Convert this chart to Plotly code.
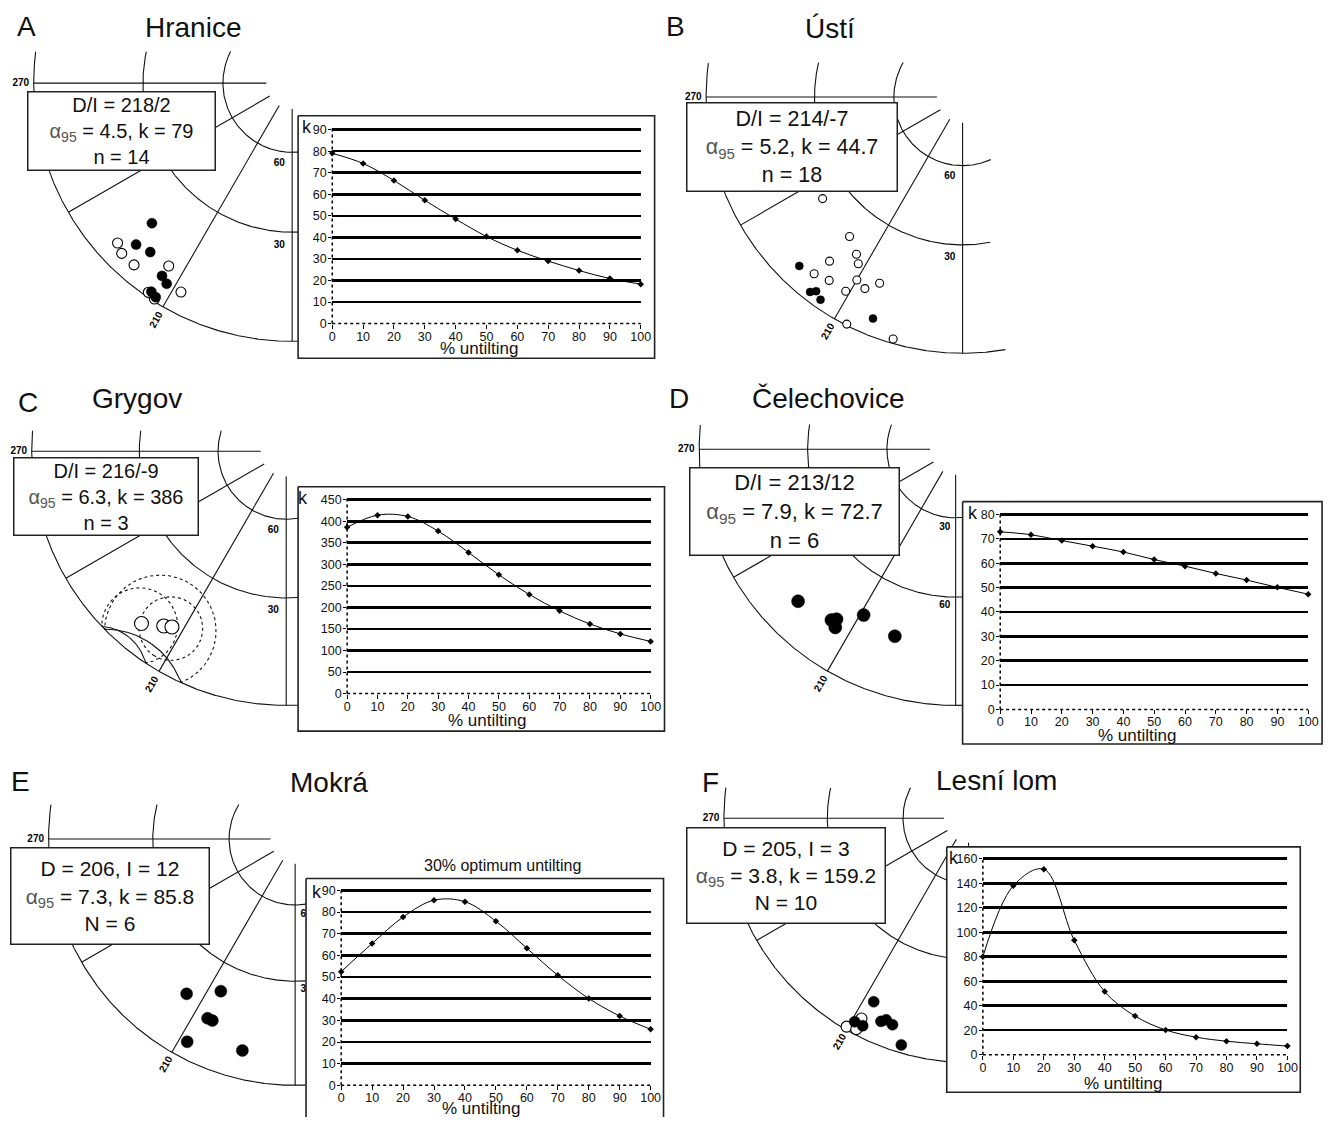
import numpy as np
import plotly.graph_objects as go

W, H = 1338, 1124

# ---------------- data ----------------
untilting = [0, 10, 20, 30, 40, 50, 60, 70, 80, 90, 100]
k_hranice = [79, 74.3, 66.4, 57.2, 48.5, 40.4, 34, 29, 24.6, 20.9, 18.3]
k_grygov = [386, 414, 411, 377, 327.5, 275.5, 230, 192, 161.5, 138.5, 121]
k_celechovice = [72.9, 71.7, 69.3, 67.0, 64.6, 61.5, 58.8, 55.8, 53.1, 50.1, 47.3]
k_mokra = [52.5, 65.5, 77.7, 85.5, 84.8, 75.8, 63.3, 50.8, 40.1, 32.0, 25.9]
k_lesni = [80, 138, 151.5, 93.5, 51.5, 31.5, 20.2, 14.3, 11.0, 8.9, 7.0]

# site-mean directions (declination, inclination); negative inclination = upper hemisphere (open symbol)
dec_hranice = [225, 224, 220, 214, 212, 214, 212.5, 227.5, 225, 221, 214, 208, 212.5, 214.5]
inc_hranice = [15, 8, 9, 6, 5, 1.5, 1, -5, -4, -4, -9, -5, -0.5, -1]

dec_usti = [234, 219, 214, 212, 219, 220, 216, 210, 211, 207, 204, 207, 196, 224, 218, 217, 215, 202]
inc_usti = [-22, -20, -17, -15, -11, -6, -7, -11, -7, -10, -13, -0.3, -1, 5, 2, 3, 2, 4]

dec_grygov = [220, 215, 213]
inc_grygov = [-7, -10, -11]
a95_grygov = [9.5, 14.5, 8.5]

dec_celechovice = [226, 216, 215, 214, 209, 198]
inc_celechovice = [9, 11, 12, 10, 17, 15]

dec_mokra = [215, 206, 206, 204.5, 208, 194]
inc_mokra = [15, 21, 12, 12, 4, 7]

dec_lesni = [207.3, 209.2, 207, 203.3, 202.2, 200.2, 196.5, 210.3, 208.1, 208]
inc_lesni = [9.6, 2.7, 2.75, 5.7, 6.6, 6.0, 1.9, -0.7, -4.2, -1.3]

panel_letters = ["A", "B", "C", "D", "E", "F"]
locality_names = ["Hranice", "Ústí", "Grygov", "Čelechovice", "Mokrá", "Lesní lom"]
stat_text = [
    ["D/I = 218/2", "4.5, k = 79", "n = 14"],
    ["D/I = 214/-7", "5.2, k = 44.7", "n = 18"],
    ["D/I = 216/-9", "6.3, k = 386", "n = 3"],
    ["D/I = 213/12", "7.9, k = 72.7", "n = 6"],
    ["D = 206, I = 12", "7.3, k = 85.8", "N = 6"],
    ["D = 205, I = 3", "3.8, k = 159.2", "N = 10"],
]
x_title = "% untilting"
y_title = "k"
optimum_note = "30% optimum untilting"

k_series = [k_hranice, None, k_grygov, k_celechovice, k_mokra, k_lesni]
y_max = [90, None, 450, 80, 90, 160]
y_step = [10, None, 50, 10, 10, 20]
dirs = [(dec_hranice, inc_hranice), (dec_usti, inc_usti), (dec_grygov, inc_grygov),
        (dec_celechovice, inc_celechovice), (dec_mokra, inc_mokra), (dec_lesni, inc_lesni)]

# ---------------- layout geometry (pixels) ----------------
geom = [
    dict(cx=292, cy=79, R=261, top=47, box=(26, 88, 214, 167), fs=20, letter=(24, 22), title=(192, 23),
         frame=(298, 112, 658, 357), plot=(332.5, 644, 322, 126), klab=(307, 123), xlab=(481, 347),
         ms=10, lab="left"),
    dict(cx=969, cy=93, R=259, top=58, box=(691, 99, 902, 188), fs=21.5, letter=(679, 22), title=(835, 24),
         frame=None, ms=8, lab="left"),
    dict(cx=286, cy=451, R=257, top=430, box=(12, 458, 197, 536), fs=20, letter=(25, 402), title=(135, 398),
         frame=(298, 487, 668, 734), plot=(347.5, 654, 696, 500), klab=(303, 498), xlab=(489, 723),
         ms=14, lab="left"),
    dict(cx=962, cy=449, R=259, top=424, box=(694, 468, 904, 556), fs=22, letter=(683, 398), title=(834, 398),
         frame=(969, 502, 1332, 747), plot=(1007, 1318, 712, 515), klab=(980, 513), xlab=(1145, 738),
         ms=13, lab="swap"),
    dict(cx=295, cy=843, R=249, top=808, box=(9, 852, 208, 949), fs=21, letter=(18, 785), title=(329, 786),
         frame=(306, 883, 667, 1130), plot=(341.5, 654, 1092, 895), klab=(317, 897), xlab=(483, 1115),
         ms=12, lab="right", note=(504, 870)),
    dict(cx=975, cy=822, R=247, top=791, box=(691, 832, 890, 928), fs=21, letter=(714, 786), title=(1003, 784),
         frame=(953, 851, 1310, 1099), plot=(989.5, 1297, 1061, 863), klab=(960, 862), xlab=(1131, 1090),
         ms=11, lab=None),
]
frames = [g["frame"] for g in geom if g["frame"]]

FONT = "Liberation Sans, Arial, Helvetica, sans-serif"
LINE = "#111111"


def proj(dec, inc, cx, cy, R):
    d = np.radians(np.asarray(dec, float))
    i = np.radians(np.abs(np.asarray(inc, float)))
    r = R * np.tan((np.pi / 2 - i) / 2)
    return cx + r * np.sin(d), cy - r * np.cos(d)


def mask_frames(x, y):
    x = np.array(x, float)
    y = np.array(y, float)
    for (x1, y1, x2, y2) in frames:
        m = (x >= x1) & (x <= x2) & (y >= y1) & (y <= y2)
        x[m] = np.nan
        y[m] = np.nan
    return x, y


def tolist(a):
    return [None if not np.isfinite(v) else float(v) for v in a]


def net_xy(g):
    cx, cy, R = g["cx"], g["cy"], g["R"]
    X, Y = [], []
    az = np.arange(120, 330.01, 0.2)
    for I, clip in ((60, 0.11), (30, 0.11), (0, 0.17)):
        x, y = proj(az, np.full_like(az, I), cx, cy, R)
        bad = (y < g["top"]) | (x > cx + clip * R)
        x[bad] = np.nan
        y[bad] = np.nan
        X += list(x) + [np.nan]
        Y += list(y) + [np.nan]
    s = np.linspace(0.1, 1.0, 400)
    for a in (180, 210, 240, 270):
        ar = np.radians(a)
        X += list(cx + s * R * np.sin(ar)) + [np.nan]
        Y += list(cy - s * R * np.cos(ar)) + [np.nan]
    X, Y = mask_frames(X, Y)
    return tolist(X), tolist(Y)


def small_circle(dec, inc, alpha, n=900):
    D, I, a = np.radians([dec, inc, alpha])
    d = np.array([np.cos(I) * np.cos(D), np.cos(I) * np.sin(D), np.sin(I)])
    e1 = np.array([-np.sin(I) * np.cos(D), -np.sin(I) * np.sin(D), np.cos(I)])
    e2 = np.cross(d, e1)
    t = np.linspace(0, 2 * np.pi, n)
    p = np.cos(a) * d[:, None] + np.sin(a) * (np.cos(t) * e1[:, None] + np.sin(t) * e2[:, None])
    inc_p = np.degrees(np.arcsin(np.clip(p[2], -1, 1)))
    dec_p = np.degrees(np.arctan2(p[1], p[0]))
    return dec_p, inc_p


fig = go.Figure()
annotations = []
shapes = []

# ---------- stereonets (main pixel axis) ----------
for idx, g in enumerate(geom):
    cx, cy, R = g["cx"], g["cy"], g["R"]
    nx, ny = net_xy(g)
    fig.add_trace(go.Scatter(x=nx, y=ny, mode="lines", line=dict(color=LINE, width=1.1),
                             hoverinfo="skip", xaxis="x", yaxis="y"))

    # small circles of confidence (Grygov)
    if idx == 2:
        for dd, ii, aa in zip(dec_grygov, inc_grygov, a95_grygov):
            dp, ip = small_circle(dd, ii, aa)
            x, y = proj(dp, ip, cx, cy, R)
            xu = np.where(ip <= 0.2, x, np.nan)
            yu = np.where(ip <= 0.2, y, np.nan)
            xl = np.where(ip >= -0.2, x, np.nan)
            yl = np.where(ip >= -0.2, y, np.nan)
            fig.add_trace(go.Scatter(x=tolist(xu), y=tolist(yu), mode="lines",
                                     line=dict(color=LINE, width=1.1, dash="3px,3px"),
                                     hoverinfo="skip", xaxis="x", yaxis="y"))
            fig.add_trace(go.Scatter(x=tolist(xl), y=tolist(yl), mode="lines",
                                     line=dict(color=LINE, width=1.1),
                                     hoverinfo="skip", xaxis="x", yaxis="y"))

    # site directions
    dec, inc = dirs[idx]
    dec = np.asarray(dec, float)
    inc = np.asarray(inc, float)
    px, py = proj(dec, inc, cx, cy, R)
    up = inc < 0
    fig.add_trace(go.Scatter(x=px[up], y=py[up], mode="markers",
                             marker=dict(size=g["ms"], color="white", line=dict(color="black", width=1.1)),
                             hoverinfo="skip", xaxis="x", yaxis="y"))
    fig.add_trace(go.Scatter(x=px[~up], y=py[~up], mode="markers",
                             marker=dict(size=g["ms"], color="black", line=dict(color="black", width=0.5)),
                             hoverinfo="skip", xaxis="x", yaxis="y"))

    # net labels
    tx, ty, tt = [cx - R - 13], [cy], ["<b>270</b>"]
    r60, r30 = R * np.tan(np.radians(15)), R * np.tan(np.radians(30))
    if g["lab"] == "left":
        tx += [cx - 13, cx - 13]; ty += [cy + r60 + 11, cy + r30 + 13]; tt += ["<b>60</b>", "<b>30</b>"]
    elif g["lab"] == "swap":
        tx += [cx - 11, cx - 11]; ty += [cy + r60 + 10, cy + r30 + 8]; tt += ["<b>30</b>", "<b>60</b>"]
    elif g["lab"] == "right":
        tx += [cx + 11, cx + 11]; ty += [cy + r60 + 10, cy + r30 + 8]; tt += ["<b>60</b>", "<b>30</b>"]
    fig.add_trace(go.Scatter(x=tx, y=ty, mode="text", text=tt,
                             textfont=dict(size=10, color="black", family=FONT),
                             hoverinfo="skip", xaxis="x", yaxis="y"))
    a210 = np.radians(210)
    annotations.append(dict(x=cx + 1.055 * R * np.sin(a210), y=cy - 1.055 * R * np.cos(a210),
                            xref="x", yref="y", text="<b>210</b>", showarrow=False, textangle=-60,
                            font=dict(size=10, color="black", family=FONT)))

    # panel letter & title
    annotations.append(dict(x=g["letter"][0], y=g["letter"][1], xref="x", yref="y",
                            text=panel_letters[idx], showarrow=False,
                            font=dict(size=28, color="#111", family=FONT)))
    annotations.append(dict(x=g["title"][0], y=g["title"][1], xref="x", yref="y",
                            text=locality_names[idx], showarrow=False,
                            font=dict(size=28, color="#111", family=FONT)))

    # statistics box
    x1, y1, x2, y2 = g["box"]
    l1, l2, l3 = stat_text[idx]
    txt = (l1 + "<br><span style='color:#555'>α<sub>95</sub></span> = " + l2 + "<br>" + l3)
    annotations.append(dict(x=(x1 + x2) / 2, y=(y1 + y2) / 2, xref="x", yref="y", text=txt,
                            showarrow=False, align="center", valign="middle",
                            width=x2 - x1 - 2, height=y2 - y1 - 2, borderpad=0,
                            bgcolor="white", bordercolor="#222", borderwidth=1.5,
                            font=dict(size=g["fs"], color="#111", family=FONT)))

# ---------- chart frames (second full-page axis, above the nets) ----------
for (x1, y1, x2, y2) in frames:
    fig.add_trace(go.Scatter(x=[x1, x2, x2, x1, x1], y=[y1, y1, y2, y2, y1], mode="lines",
                             fill="toself", fillcolor="white", line=dict(color="#222", width=1.6),
                             hoverinfo="skip", xaxis="x2", yaxis="y2"))

layout_axes = {}
full = dict(domain=[0, 1], visible=False, fixedrange=True, showgrid=False, zeroline=False)
layout_axes["xaxis"] = dict(full, range=[0, W], anchor="y")
layout_axes["yaxis"] = dict(full, range=[H, 0], anchor="x")
layout_axes["xaxis2"] = dict(full, range=[0, W], anchor="y2")
layout_axes["yaxis2"] = dict(full, range=[H, 0], anchor="x2")

# ---------- k vs untilting charts ----------
ax_n = 3
for idx, g in enumerate(geom):
    if k_series[idx] is None:
        continue
    x0, x100, y0, ytop = g["plot"]
    ymax = y_max[idx]
    pad = 2.0
    xa, ya = f"x{ax_n}", f"y{ax_n}"
    layout_axes[f"xaxis{ax_n}"] = dict(
        domain=[x0 / W, x100 / W], range=[0, 100], anchor=ya,
        tickmode="linear", tick0=0, dtick=10, showgrid=False, zeroline=False, showline=False,
        ticks="outside", ticklen=4, tickwidth=1, tickcolor="black", ticklabelstandoff=-3,
        tickfont=dict(size=12.5, color="#111", family=FONT), fixedrange=True)
    layout_axes[f"yaxis{ax_n}"] = dict(
        domain=[1 - y0 / H, 1 - (ytop - pad) / H],
        range=[0, ymax + pad * ymax / (y0 - ytop)], anchor=xa,
        tickmode="linear", tick0=0, dtick=y_step[idx], showgrid=True, gridcolor="black", gridwidth=2.6,
        zeroline=False, showline=False, ticks="outside", ticklen=3, tickwidth=1, tickcolor="black",
        ticklabelstandoff=-1,
        tickfont=dict(size=12.5, color="#111", family=FONT), fixedrange=True)
    fig.add_trace(go.Scatter(x=untilting, y=k_series[idx], mode="lines+markers",
                             line=dict(color="black", width=1, shape="spline", smoothing=1),
                             marker=dict(symbol="diamond", size=5, color="black"),
                             cliponaxis=False, hoverinfo="skip", xaxis=xa, yaxis=ya))
    # dotted axis lines
    shapes.append(dict(type="line", xref=f"{xa} domain", yref=f"{ya} domain", x0=0, x1=0, y0=0, y1=1,
                       line=dict(color="black", width=1.5, dash="dot"), layer="above"))
    shapes.append(dict(type="line", xref=f"{xa} domain", yref=f"{ya} domain", x0=0, x1=1, y0=0, y1=0,
                       line=dict(color="black", width=1.5, dash="dot"), layer="above"))
    annotations.append(dict(x=g["klab"][0], y=g["klab"][1], xref="x", yref="y", text=y_title,
                            showarrow=False, font=dict(size=18, color="#111", family=FONT)))
    annotations.append(dict(x=g["xlab"][0], y=g["xlab"][1], xref="x", yref="y", text=x_title,
                            showarrow=False, font=dict(size=17, color="#111", family=FONT)))
    if "note" in g:
        annotations.append(dict(x=g["note"][0], y=g["note"][1], xref="x", yref="y", text=optimum_note,
                                showarrow=False, font=dict(size=16, color="#111", family=FONT)))
    ax_n += 1

fig.update_layout(
    width=W, height=H, margin=dict(l=0, r=0, t=0, b=0, pad=0),
    paper_bgcolor="white", plot_bgcolor="rgba(0,0,0,0)",
    showlegend=False, hovermode=False,
    font=dict(family=FONT, color="#111"),
    annotations=annotations, shapes=shapes,
    **layout_axes,
)

fig.write_html("out.html", include_plotlyjs=True, config={"displayModeBar": False, "staticPlot": True})
